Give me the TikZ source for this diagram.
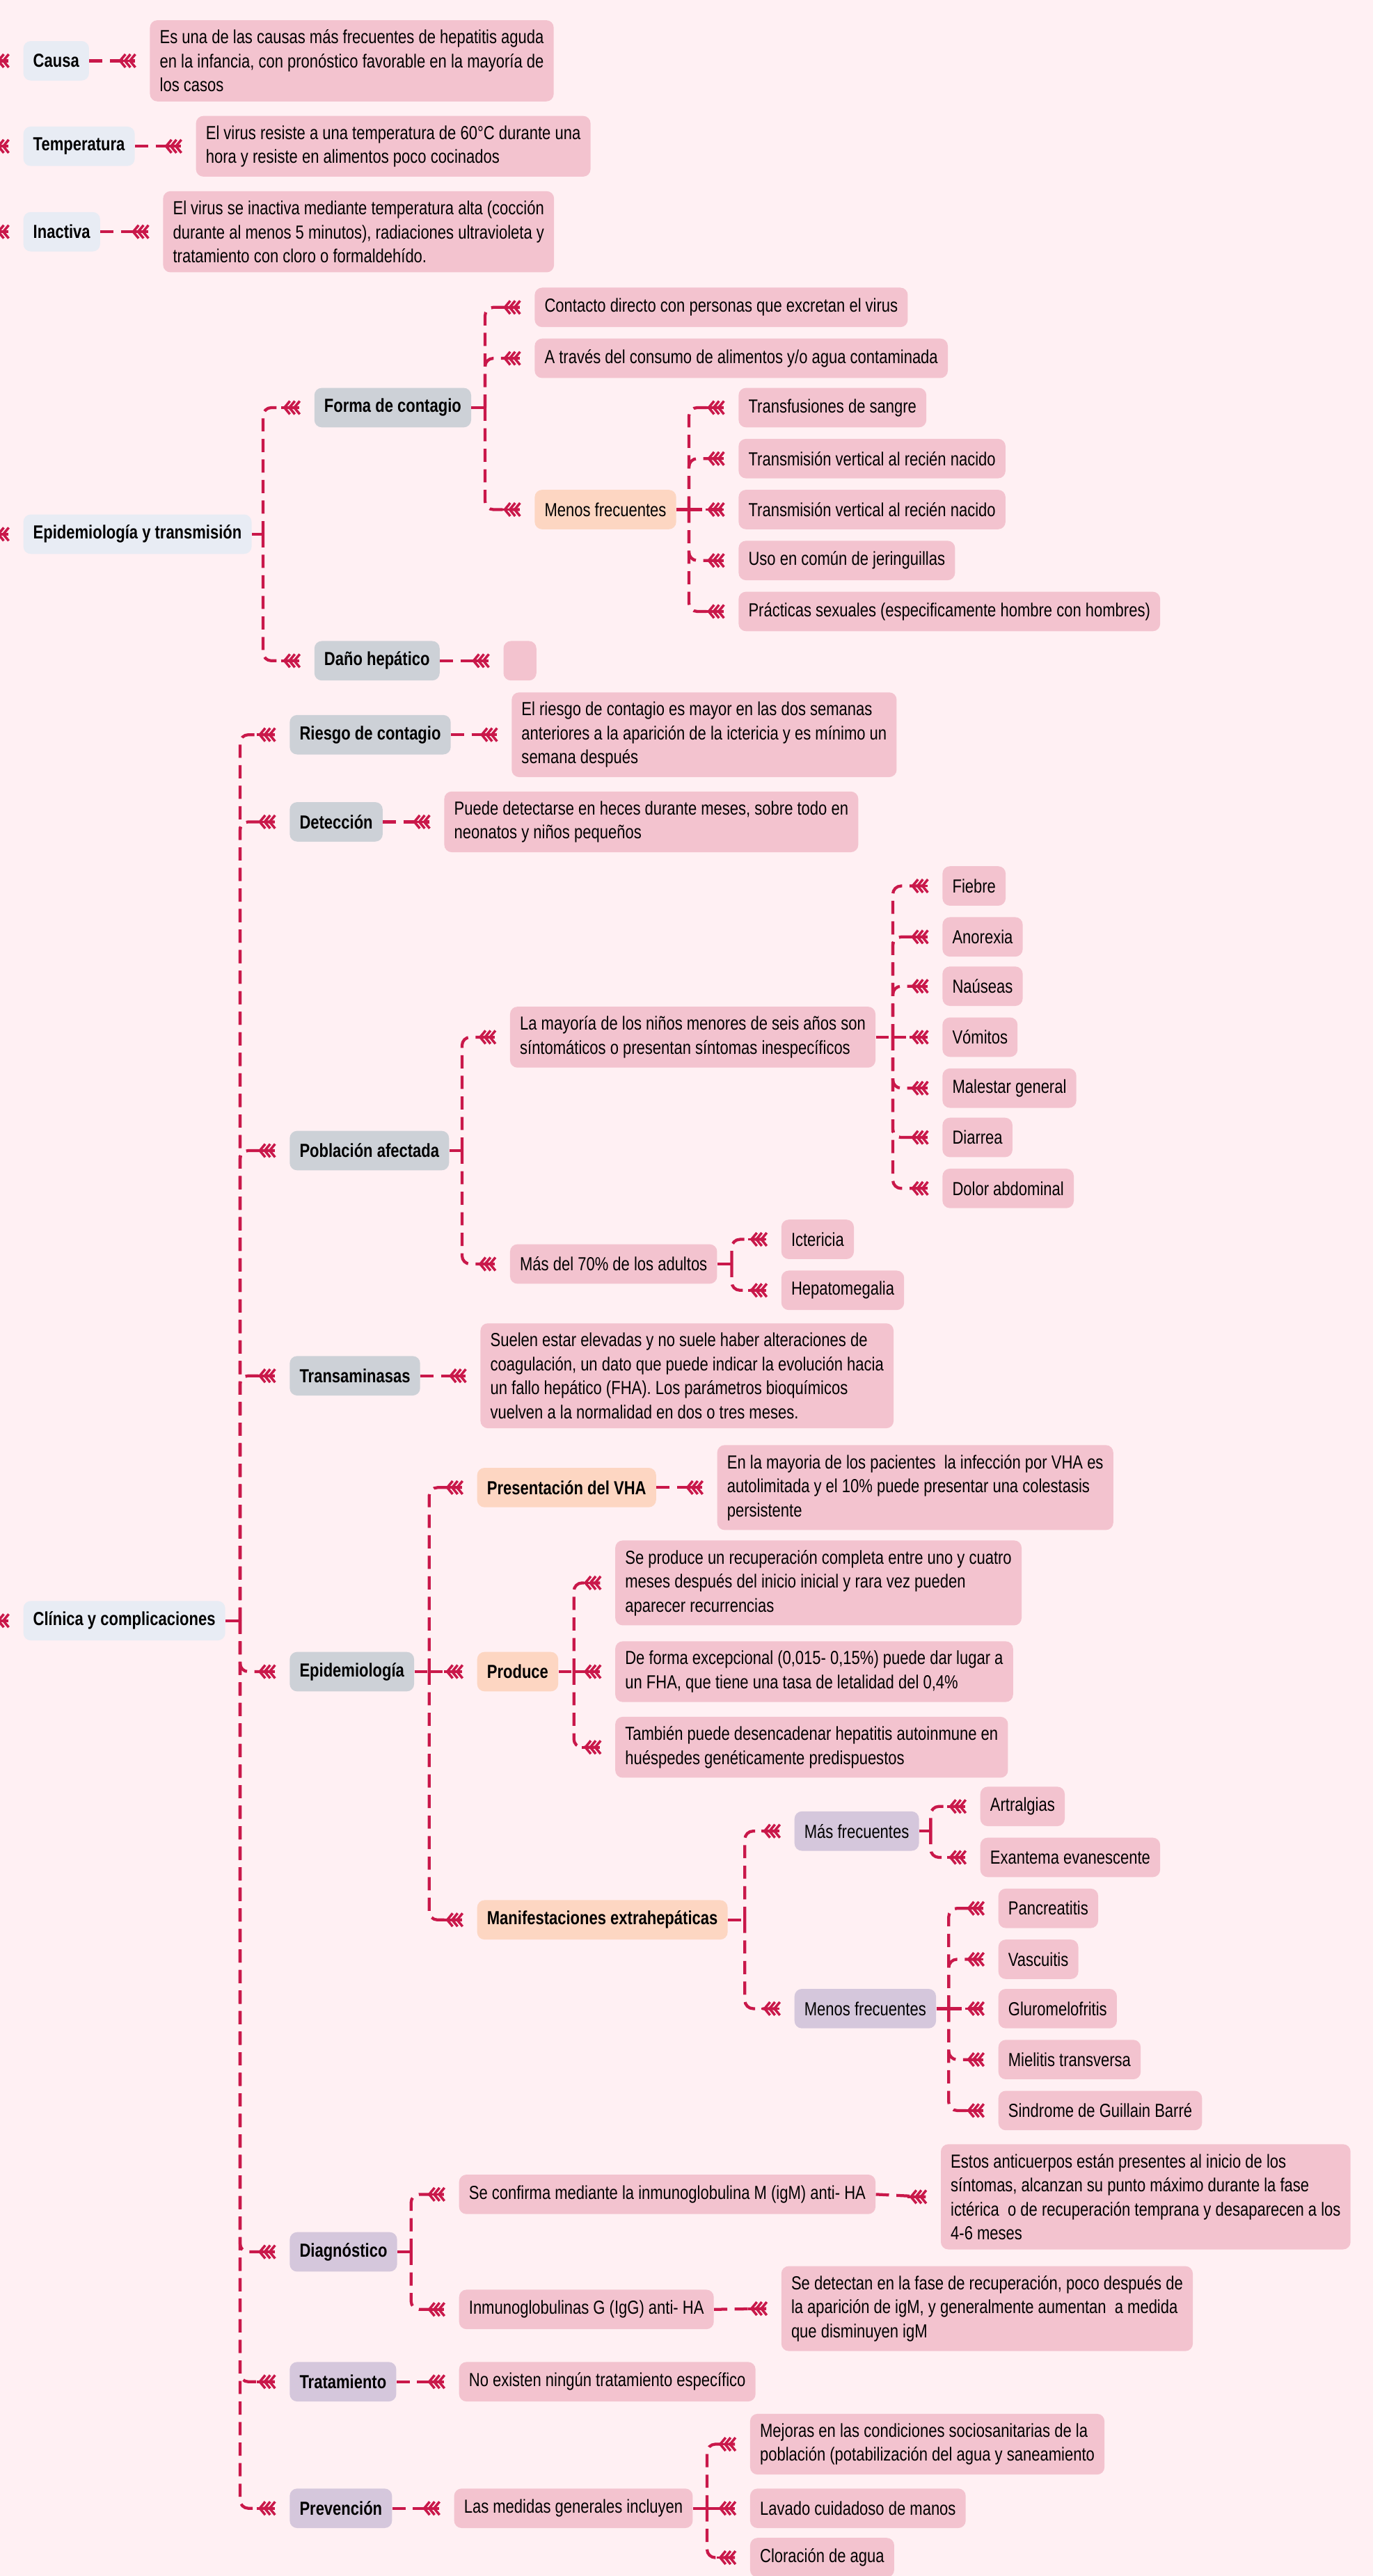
\documentclass[tikz,border=0pt]{standalone}
\usepackage{fontspec}
\setmainfont[FakeStretch=0.81]{Liberation Sans}
\definecolor{bgc}{HTML}{FFF0F3}
\definecolor{leafc}{HTML}{F3C3CF}
\definecolor{topc}{HTML}{E8ECF4}
\definecolor{grayc}{HTML}{CDD1D7}
\definecolor{peachc}{HTML}{FDD6C2}
\definecolor{lavc}{HTML}{D5C7DC}
\definecolor{lc}{HTML}{C9184A}
\newcommand\cnBr[3]{\draw[conn] (#1.east -| #2) |- ([xshift=-9pt]#3.west) pic{fletch};}
\newcommand\cnBs[3]{\draw[conn] (#1.east -| #2) -- ([xshift=-9pt]#3.west) pic{fletch};}
\newcommand\cnStub[2]{\draw[conn] (#1.east) -- (#1.east -| #2);}
\newcommand\cnOne[2]{\draw[conn] (#1.east) -- ([xshift=-9pt]#2.west) pic{fletch};}
\newcommand\cnRoot[1]{\draw[conn] (root |- #1.west) -- ([xshift=-9pt]#1.west) pic{fletch};}
\begin{document}
\begin{tikzpicture}[x=1pt,y=-1pt,
  box/.style={rounded corners=4.5pt, inner xsep=6pt, inner ysep=5.8pt, minimum height=24pt, align=left, anchor=west, text=black, font=\fontsize{11.5}{14.6}\selectfont},
  topn/.style={box, fill=topc, font=\fontsize{11.5}{14.6}\selectfont\bfseries},
  grayn/.style={box, fill=grayc, font=\fontsize{11.5}{14.6}\selectfont\bfseries},
  peachn/.style={box, fill=peachc},
  peachb/.style={box, fill=peachc, font=\fontsize{11.5}{14.6}\selectfont\bfseries},
  lavn/.style={box, fill=lavc},
  lavb/.style={box, fill=lavc, font=\fontsize{11.5}{14.6}\selectfont\bfseries},
  leaf/.style={box, fill=leafc},
  conn/.style={draw=lc, line width=1.8pt, dash pattern=on 8pt off 4.5pt, rounded corners=5pt},
  fletch/.pic={
    \draw[solid, sharp corners, line width=1.6pt, draw=lc, line cap=butt] (-11,0) -- (0,0);
    \foreach \xx in {-9,-6,-3}{
      \draw[solid, sharp corners, line width=1.5pt, draw=lc, line cap=butt, line join=miter] (\xx+3.3,-4) -- (\xx,0) -- (\xx+3.3,4);}
  }]
\fill[bgc] (0,0) rectangle (835,1567.2);
\useasboundingbox (0,0) rectangle (835,1567.2);
\clip (0,0) rectangle (835,1567.2);
\coordinate (root) at (-40,0);
% ---------- top part
\node[topn] (causa) at (14,37) {Causa};
\node[leaf] (causaT) at (91,37) {Es una de las causas más frecuentes de hepatitis aguda\\en la infancia, con pronóstico favorable en la mayoría de\\los casos};
\node[topn] (temp) at (14,89) {Temperatura};
\node[leaf] (tempT) at (119,89) {El virus resiste a una temperatura de 60°C durante una\\hora y resiste en alimentos poco cocinados};
\node[topn] (inact) at (14,141) {Inactiva};
\node[leaf] (inactT) at (99,141) {El virus se inactiva mediante temperatura alta (cocción\\durante al menos 5 minutos), radiaciones ultravioleta y\\tratamiento con cloro o formaldehído.};
% ---------- epidemiologia y transmision
\node[topn] (epit) at (14,325) {Epidemiología y transmisión};
\node[grayn] (forma) at (191,248) {Forma de contagio};
\node[leaf] (contacto) at (325,187) {Contacto directo con personas que excretan el virus};
\node[leaf] (atraves) at (325,218) {A través del consumo de alimentos y/o agua contaminada};
\node[peachn] (menosA) at (325,310) {Menos frecuentes};
\node[leaf] (transf) at (449,248) {Transfusiones de sangre};
\node[leaf] (tvA) at (449,279) {Transmisión vertical al recién nacido};
\node[leaf] (tvB) at (449,310) {Transmisión vertical al recién nacido};
\node[leaf] (uso) at (449,341) {Uso en común de jeringuillas};
\node[leaf] (prac) at (449,372) {Prácticas sexuales (especificamente hombre con hombres)};
\node[grayn] (dano) at (191,402) {Daño hepático};
\node[leaf, minimum width=20pt] (danoT) at (306,402) {};
% ---------- clinica
\node[topn] (clin) at (14,986) {Clínica y complicaciones};
\node[grayn] (riesgo) at (176,447) {Riesgo de contagio};
\node[leaf] (riesgoT) at (311,447) {El riesgo de contagio es mayor en las dos semanas\\anteriores a la aparición de la ictericia y es mínimo un\\semana después};
\node[grayn] (detec) at (176,500) {Detección};
\node[leaf] (detecT) at (270,500) {Puede detectarse en heces durante meses, sobre todo en\\neonatos y niños pequeños};
\node[grayn] (pobl) at (176,700) {Población afectada};
\node[leaf] (mayoria) at (310,631) {La mayoría de los niños menores de seis años son\\síntomáticos o presentan síntomas inespecíficos};
\node[leaf] (fiebre) at (573,539) {Fiebre};
\node[leaf] (anor) at (573,570) {Anorexia};
\node[leaf] (naus) at (573,600) {Naúseas};
\node[leaf] (vomi) at (573,631) {Vómitos};
\node[leaf] (males) at (573,662) {Malestar general};
\node[leaf] (diarr) at (573,692) {Diarrea};
\node[leaf] (dolor) at (573,723) {Dolor abdominal};
\node[leaf] (mas70) at (310,769) {Más del 70\% de los adultos};
\node[leaf] (icte) at (475,754) {Ictericia};
\node[leaf] (hepa) at (475,785) {Hepatomegalia};
\node[grayn] (trans) at (176,837) {Transaminasas};
\node[leaf] (transT) at (292,837) {Suelen estar elevadas y no suele haber alteraciones de\\coagulación, un dato que puede indicar la evolución hacia\\un fallo hepático (FHA). Los parámetros bioquímicos\\vuelven a la normalidad en dos o tres meses.};
\node[grayn] (epid) at (176,1017) {Epidemiología};
\node[peachb] (pres) at (290,905) {Presentación del VHA};
\node[leaf] (presT) at (436,905) {En la mayoria de los pacientes\ \ la infección por VHA es\\autolimitada y el 10\% puede presentar una colestasis\\persistente};
\node[peachb] (produce) at (290,1017) {Produce};
\node[leaf] (prodA) at (374,963) {Se produce un recuperación completa entre uno y cuatro\\meses después del inicio inicial y rara vez pueden\\aparecer recurrencias};
\node[leaf] (prodB) at (374,1017) {De forma excepcional (0,015- 0,15\%) puede dar lugar a\\un FHA, que tiene una tasa de letalidad del 0,4\%};
\node[leaf] (prodC) at (374,1063) {También puede desencadenar hepatitis autoinmune en\\huéspedes genéticamente predispuestos};
\node[peachb] (manif) at (290,1168) {Manifestaciones extrahepáticas};
\node[lavn] (masf) at (483,1114) {Más frecuentes};
\node[leaf] (artr) at (596,1099) {Artralgias};
\node[leaf] (exan) at (596,1130) {Exantema evanescente};
\node[lavn] (menf) at (483,1222) {Menos frecuentes};
\node[leaf] (panc) at (607,1161) {Pancreatitis};
\node[leaf] (vasc) at (607,1192) {Vascuitis};
\node[leaf] (glur) at (607,1222) {Gluromelofritis};
\node[leaf] (miel) at (607,1253) {Mielitis transversa};
\node[leaf] (sind) at (607,1284) {Sindrome de Guillain Barré};
\node[lavb] (diag) at (176,1370) {Diagnóstico};
\node[leaf] (igm) at (279,1335) {Se confirma mediante la inmunoglobulina M (igM) anti- HA};
\node[leaf] (igmT) at (572,1336.5) {Estos anticuerpos están presentes al inicio de los\\síntomas, alcanzan su punto máximo durante la fase\\ictérica\ \ o de recuperación temprana y desaparecen a los\\4-6 meses};
\node[leaf] (igg) at (279,1405) {Inmunoglobulinas G (IgG) anti- HA};
\node[leaf] (iggT) at (475,1404.5) {Se detectan en la fase de recuperación, poco después de\\la aparición de igM, y generalmente aumentan\ \ a medida\\que disminuyen igM};
\node[lavb] (trat) at (176,1449) {Tratamiento};
\node[leaf] (tratT) at (279,1449) {No existen ningún tratamiento específico};
\node[lavb] (prev) at (176,1526) {Prevención};
\node[leaf] (medidas) at (276,1526) {Las medidas generales incluyen};
\node[leaf] (mejoras) at (456,1487) {Mejoras en las condiciones sociosanitarias de la\\población (potabilización del agua y saneamiento};
\node[leaf] (lavado) at (456,1526) {Lavado cuidadoso de manos};
\node[leaf] (clor) at (456,1556) {Cloración de agua};
% ---------- bus coordinates
\coordinate (bEpit) at (160,0);
\coordinate (bForma) at (295,0);
\coordinate (bMenosA) at (419,0);
\coordinate (bClin) at (146,0);
\coordinate (bPobl) at (281,0);
\coordinate (bMay) at (543,0);
\coordinate (bMas70) at (445,0);
\coordinate (bEpid) at (261,0);
\coordinate (bProd) at (349,0);
\coordinate (bManif) at (453,0);
\coordinate (bMasf) at (566,0);
\coordinate (bMenf) at (577,0);
\coordinate (bDiag) at (250,0);
\coordinate (bMed) at (430,0);
% ---------- root connectors
\cnRoot{causa}
\cnRoot{temp}
\cnRoot{inact}
\cnRoot{epit}
\cnRoot{clin}
% ---------- single connectors
\cnOne{causa}{causaT}
\cnOne{temp}{tempT}
\cnOne{inact}{inactT}
\cnOne{dano}{danoT}
\cnOne{riesgo}{riesgoT}
\cnOne{detec}{detecT}
\cnOne{trans}{transT}
\cnOne{pres}{presT}
\cnOne{igm}{igmT}
\cnOne{igg}{iggT}
\cnOne{trat}{tratT}
\cnOne{prev}{medidas}
% ---------- epidemiologia y transmision
\cnStub{epit}{bEpit}
\cnBr{epit}{bEpit}{forma}
\cnBr{epit}{bEpit}{dano}
\cnStub{forma}{bForma}
\cnBr{forma}{bForma}{contacto}
\cnBr{forma}{bForma}{atraves}
\cnBr{forma}{bForma}{menosA}
\cnStub{menosA}{bMenosA}
\cnBr{menosA}{bMenosA}{transf}
\cnBr{menosA}{bMenosA}{tvA}
\cnBs{menosA}{bMenosA}{tvB}
\cnBr{menosA}{bMenosA}{uso}
\cnBr{menosA}{bMenosA}{prac}
% ---------- clinica
\cnStub{clin}{bClin}
\cnBr{clin}{bClin}{riesgo}
\cnBr{clin}{bClin}{detec}
\cnBr{clin}{bClin}{pobl}
\cnBr{clin}{bClin}{trans}
\cnBr{clin}{bClin}{epid}
\cnBr{clin}{bClin}{diag}
\cnBr{clin}{bClin}{trat}
\cnBr{clin}{bClin}{prev}
\cnStub{pobl}{bPobl}
\cnBr{pobl}{bPobl}{mayoria}
\cnBr{pobl}{bPobl}{mas70}
\cnStub{mayoria}{bMay}
\cnBr{mayoria}{bMay}{fiebre}
\cnBr{mayoria}{bMay}{anor}
\cnBr{mayoria}{bMay}{naus}
\cnBs{mayoria}{bMay}{vomi}
\cnBr{mayoria}{bMay}{males}
\cnBr{mayoria}{bMay}{diarr}
\cnBr{mayoria}{bMay}{dolor}
\cnStub{mas70}{bMas70}
\cnBr{mas70}{bMas70}{icte}
\cnBr{mas70}{bMas70}{hepa}
\cnStub{epid}{bEpid}
\cnBr{epid}{bEpid}{pres}
\cnBs{epid}{bEpid}{produce}
\cnBr{epid}{bEpid}{manif}
\cnStub{produce}{bProd}
\cnBr{produce}{bProd}{prodA}
\cnBs{produce}{bProd}{prodB}
\cnBr{produce}{bProd}{prodC}
\cnStub{manif}{bManif}
\cnBr{manif}{bManif}{masf}
\cnBr{manif}{bManif}{menf}
\cnStub{masf}{bMasf}
\cnBr{masf}{bMasf}{artr}
\cnBr{masf}{bMasf}{exan}
\cnStub{menf}{bMenf}
\cnBr{menf}{bMenf}{panc}
\cnBr{menf}{bMenf}{vasc}
\cnBs{menf}{bMenf}{glur}
\cnBr{menf}{bMenf}{miel}
\cnBr{menf}{bMenf}{sind}
\cnStub{diag}{bDiag}
\cnBr{diag}{bDiag}{igm}
\cnBr{diag}{bDiag}{igg}
\cnStub{medidas}{bMed}
\cnBr{medidas}{bMed}{mejoras}
\cnBs{medidas}{bMed}{lavado}
\cnBr{medidas}{bMed}{clor}
\end{tikzpicture}
\end{document}
